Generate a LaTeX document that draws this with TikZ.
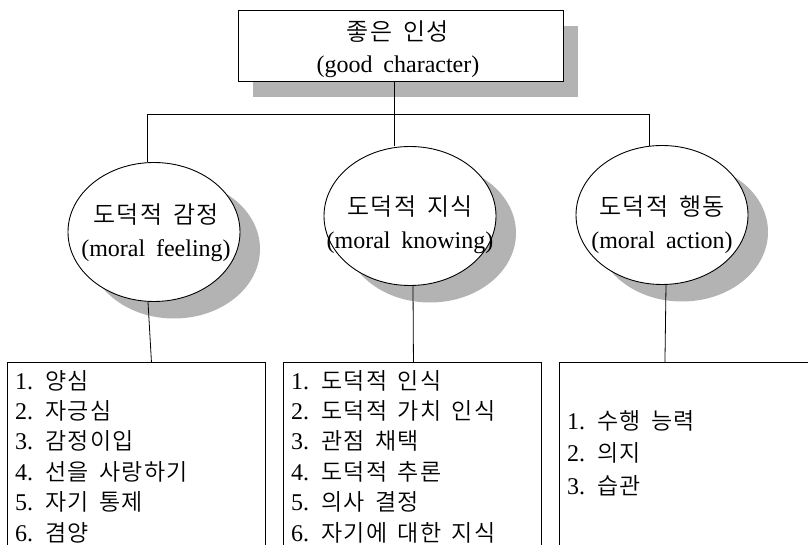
\documentclass[tikz,border=0pt]{standalone}
\usepackage{fontspec}
\setmainfont{Liberation Serif}[WordSpace=1.8]
\IfFontExistsTF{Noto Sans CJK KR DemiLight}
  {\newfontfamily\kr[WordSpace=1.6,LetterSpace=6]{Noto Sans CJK KR DemiLight}}
  {\newfontfamily\kr[WordSpace=1.6,LetterSpace=6]{Noto Sans CJK KR}}
\usetikzlibrary{shapes.geometric,shadows}
\definecolor{shadowgray}{RGB}{179,179,179}
\newcommand\ko[1]{{\kr #1}}
\newcommand\num[1]{\makebox[30pt][l]{\fontsize{24}{30}\selectfont #1}}

\tikzset{
  frame/.style={draw=black, line width=0.9pt, fill=white, inner sep=0pt},
  titlebox/.style={frame, rectangle, minimum width=325pt, minimum height=71pt,
    drop shadow={shadow xshift=15pt, shadow yshift=-16pt, fill=shadowgray, opacity=1}},
  oval/.style={frame, ellipse, minimum width=172pt, minimum height=139pt,
    drop shadow={shadow xshift=20pt, shadow yshift=-17pt, fill=shadowgray, opacity=1}},
  caption/.style={inner sep=0pt, align=center, font=\fontsize{24}{33}\selectfont},
  listbox/.style={frame, rectangle, anchor=north west, minimum height=200pt},
  listtext/.style={anchor=base west, inner sep=0pt, font=\fontsize{23}{30.4}\selectfont},
  wire/.style={draw=black, line width=0.8pt}
}

\begin{document}
\begin{tikzpicture}[x=1pt, y=-1pt]
  \useasboundingbox (0,0) rectangle (808,545);
  \clip (0,0) rectangle (808,545);
  \fill[white] (0,0) rectangle (808,545);

  % top concept
  \node[titlebox] (top) at (400.5,45.5) {};
  \node[caption, font=\fontsize{24}{32}\selectfont] (topText) at (398,49)
    {\ko{좋은 인성}\\(good character)};

  % the three components
  \node[oval] (feel) at (154,232) {};
  \node[oval] (know) at (410,216) {};
  \node[oval] (act)  at (662,215) {};
  \node[caption] (feelText) at (156,233) {\ko{도덕적 감정}\\(moral feeling)};
  \node[caption] (knowText) at (410,225) {\ko{도덕적 지식}\\(moral knowing)};
  \node[caption] (actText)  at (662,225) {\ko{도덕적 행동}\\(moral action)};

  % detail boxes
  \node[listbox, minimum width=258pt] (feelBox) at (7,362) {};
  \node[listbox, minimum width=258pt] (knowBox) at (283,362) {};
  \node[listbox, minimum width=270pt] (actBox)  at (559,362) {};

  \node[listtext] (feelList) at (15,389) {\begin{tabular}[t]{@{}l@{}}
    \num{1.}\ko{양심}\\
    \num{2.}\ko{자긍심}\\
    \num{3.}\ko{감정이입}\\
    \num{4.}\ko{선을 사랑하기}\\
    \num{5.}\ko{자기 통제}\\
    \num{6.}\ko{겸양}
  \end{tabular}};
  \node[listtext] (knowList) at (291,389) {\begin{tabular}[t]{@{}l@{}}
    \num{1.}\ko{도덕적 인식}\\
    \num{2.}\ko{도덕적 가치 인식}\\
    \num{3.}\ko{관점 채택}\\
    \num{4.}\ko{도덕적 추론}\\
    \num{5.}\ko{의사 결정}\\
    \num{6.}\ko{자기에 대한 지식}
  \end{tabular}};
  \node[listtext, font=\fontsize{23}{32.5}\selectfont] (actList) at (567,429)
  {\begin{tabular}[t]{@{}l@{}}
    \num{1.}\ko{수행 능력}\\
    \num{2.}\ko{의지}\\
    \num{3.}\ko{습관}
  \end{tabular}};

  % tree connectors
  \coordinate (jT) at (394,114);
  \coordinate (jL) at (147,114);
  \coordinate (jR) at (649,114);
  \draw[wire] (jT |- top.south) -- (jT);
  \draw[wire] (jL) -- (jR);
  \draw[wire] (jL) -- (jL |- feel.north);
  \draw[wire] (jT) -- (jT |- know.north);
  \draw[wire] (jR) -- ([yshift=-0.5pt]jR |- act.north);

  \draw[wire] ([xshift=-6pt]feel.south) -- ([xshift=15pt]feelBox.north);
  \draw[wire] ([xshift=3pt]know.south) -- ([xshift=1pt]knowBox.north);
  \draw[wire] ([xshift=4pt]act.south) -- ([xshift=-29.5pt]actBox.north);
\end{tikzpicture}
\end{document}
